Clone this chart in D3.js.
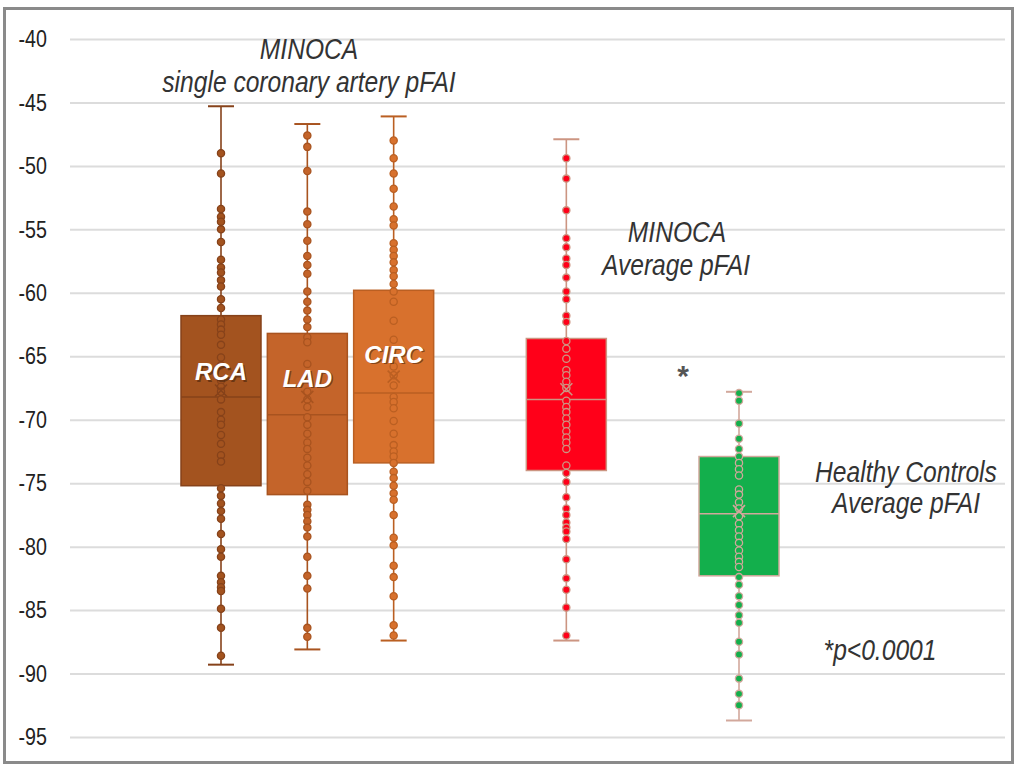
<!DOCTYPE html>
<html>
<head>
<meta charset="utf-8">
<script src="https://cdn.jsdelivr.net/npm/d3@7"></script>
<style>
  html, body { margin: 0; padding: 0; background: #fff; }
  svg { display: block; }
</style>
</head>
<body>
<svg id="chart" width="1017" height="766"></svg>
<script>
// ---------------- DATA ----------------
const slots = ["RCA", "LAD", "CIRC", "gap1", "MINOCA", "gap2", "HC"];
const seriesKeys = ["RCA", "LAD", "CIRC", "MINOCA", "HC"];
const boxLabels = ["RCA", "LAD", "CIRC", "", ""];

const whiskerHigh = [-45.3, -46.7, -46.1, -47.9, -67.8];
const q3Values     = [-61.8, -63.2, -59.8, -63.6, -72.9];
const medianValues = [-68.2, -69.6, -67.9, -68.4, -77.4];
const q1Values     = [-75.2, -75.9, -73.4, -74.0, -82.3];
const whiskerLow  = [-89.3, -88.1, -87.4, -87.4, -93.7];
const meanValues   = [-67.7, -68.2, -66.6, -67.6, -77.2];

const rcaPoints = [-49.0, -50.6, -53.4, -54.0, -54.4, -55.0, -56.0, -57.4, -58.0, -58.4, -59.0, -59.5, -60.5, -61.2,
  -62.1, -62.5, -62.9, -63.3, -64.1, -65.1, -65.7, -66.9, -67.4, -67.8, -68.4, -69.4, -70.0, -70.4, -71.2, -71.9, -72.8, -73.3,
  -75.4, -76.0, -76.6, -77.2, -77.8, -79.0, -80.2, -80.8, -82.3, -82.8, -83.2, -83.5, -84.9, -86.4, -88.6];
const ladPoints = [-47.6, -48.5, -50.4, -53.6, -54.6, -55.9, -57.1, -57.8, -58.5, -59.9, -60.7, -61.4, -62.1, -62.7,
  -63.5, -63.9, -65.6, -67.8, -68.4, -69.0, -69.8, -70.4, -71.1, -71.8, -72.3, -73.0, -73.6, -74.3, -74.9, -75.6,
  -76.7, -77.1, -77.5, -78.0, -78.5, -79.2, -80.8, -82.3, -83.3, -86.4, -87.1];
const circPoints = [-48.0, -49.4, -50.6, -51.8, -53.2, -54.2, -54.7, -56.1, -56.6, -57.1, -57.6, -58.2, -58.7, -59.3, -59.9,
  -60.7, -62.2, -63.7, -65.8, -66.5, -67.3, -68.2, -68.6, -69.1, -70.1, -71.1, -72.0, -72.5, -72.9,
  -73.4, -74.1, -74.6, -75.2, -75.8, -76.3, -77.5, -79.3, -79.9, -81.5, -82.4, -83.9, -86.2, -87.0];
const minocaPoints = [-49.4, -51.0, -53.5, -55.7, -56.4, -57.3, -57.8, -58.8, -59.9, -60.5, -61.8, -62.3,
  -63.8, -64.4, -65.2, -66.1, -66.5, -67.0, -67.5, -68.5, -69.0, -69.4, -69.9, -70.4, -70.9, -71.4, -71.8, -72.3, -73.6,
  -74.2, -74.9, -76.1, -77.0, -77.5, -78.1, -78.5, -78.8, -79.4, -81.0, -82.5, -83.4, -84.8, -87.0];
const hcPoints = [-67.9, -68.5, -70.3, -71.5, -72.3, -72.9, -73.4, -73.9, -74.4, -75.5, -75.9, -76.5, -77.0, -77.6,
  -78.2, -78.7, -79.2, -79.7, -80.3, -80.8, -81.2, -81.6, -82.4, -83.0, -83.9, -84.6, -85.4, -86.0, -87.5, -88.5,
  -90.4, -91.6, -92.5];

const yTicks = [-40, -45, -50, -55, -60, -65, -70, -75, -80, -85, -90, -95];

// ---------------- STYLE ----------------
const fills   = ["#A3531F", "#C4642A", "#D8712D", "#FF0019", "#13AF4C"];
const strokes = ["#86421A", "#A8531F", "#BA5F22", "#CC9582", "#D2A89C"];
const sans = "'Liberation Sans', Arial, sans-serif";
const squeeze = 0.82;

const pointSets = [rcaPoints, ladPoints, circPoints, minocaPoints, hcPoints];
const series = seriesKeys.map((k, i) => ({
  key: k, label: boxLabels[i], hi: whiskerHigh[i], q3: q3Values[i], med: medianValues[i],
  q1: q1Values[i], lo: whiskerLow[i], mean: meanValues[i], pts: pointSets[i],
  fill: fills[i], stroke: strokes[i]
}));

const svg = d3.select("#chart");
const plotLeft = 70, plotRight = 1005;

const y = d3.scaleLinear().domain([-95, -40]).range([737, 39]);
const x = d3.scalePoint().domain(slots).range([221, 739]);
const boxW = 80, capW = 26;

// outer frame
svg.append("rect").attr("x", 4.5).attr("y", 8.5).attr("width", 1008).attr("height", 754)
  .attr("fill", "#fff").attr("stroke", "#8a8a8a").attr("stroke-width", 3);

// axis + gridlines
const axis = d3.axisLeft(y).tickValues(yTicks).tickSize(-(plotRight - plotLeft)).tickPadding(0)
  .tickFormat(d => String(d));
const gAxis = svg.append("g").attr("transform", `translate(${plotLeft},0)`).call(axis);
gAxis.select(".domain").remove();
gAxis.selectAll(".tick line").attr("stroke", "#dcdcdc").attr("stroke-width", 2);
gAxis.selectAll(".tick text").attr("fill", "#222").style("font-family", sans).style("font-size", "24px")
  .attr("x", -23 / squeeze).attr("transform", `scale(${squeeze},1)`);

// boxes
const g = svg.append("g");
series.forEach(s => {
  const cx = x(s.key);
  const gs = g.append("g");
  gs.append("line").attr("x1", cx).attr("x2", cx).attr("y1", y(s.hi)).attr("y2", y(s.lo))
    .attr("stroke", s.stroke).attr("stroke-width", 1.6);
  [s.hi, s.lo].forEach(v => gs.append("line").attr("x1", cx - capW / 2).attr("x2", cx + capW / 2)
    .attr("y1", y(v)).attr("y2", y(v)).attr("stroke", s.stroke).attr("stroke-width", 2));
  gs.append("rect").attr("x", cx - boxW / 2).attr("width", boxW)
    .attr("y", y(s.q3)).attr("height", y(s.q1) - y(s.q3))
    .attr("fill", s.fill).attr("stroke", s.stroke).attr("stroke-width", 1.5);
  gs.append("line").attr("x1", cx - boxW / 2).attr("x2", cx + boxW / 2)
    .attr("y1", y(s.med)).attr("y2", y(s.med)).attr("stroke", s.stroke).attr("stroke-width", 1.5);
  gs.selectAll("circle").data(s.pts).join("circle")
    .attr("cx", cx).attr("cy", d => y(d)).attr("r", 3.6)
    .attr("fill", s.fill).attr("stroke", s.stroke).attr("stroke-width", 1.3);
  const m = 6, my = y(s.mean);
  gs.append("path").attr("d", `M${cx - m},${my - m}L${cx + m},${my + m}M${cx - m},${my + m}L${cx + m},${my - m}`)
    .attr("stroke", s.stroke).attr("stroke-width", 1.6).attr("fill", "none");
});

// labels inside boxes
const labelY = { RCA: -66.9, LAD: -67.4, CIRC: -65.5 };
series.filter(s => s.label).forEach(s => {
  const cx = x(s.key), ly = y(labelY[s.key]);
  svg.append("text").attr("x", cx + 1.5).attr("y", ly + 1.5).attr("text-anchor", "middle")
    .attr("fill", "rgba(60,30,10,0.55)").style("font-family", sans)
    .style("font-size", "24px").style("font-weight", "bold").style("font-style", "italic").text(s.label);
  svg.append("text").attr("x", cx).attr("y", ly).attr("text-anchor", "middle")
    .attr("fill", "#fff").style("font-family", sans)
    .style("font-size", "24px").style("font-weight", "bold").style("font-style", "italic").text(s.label);
});

// annotations (narrow italic)
const notes = [
  { t: "MINOCA", x: 309, y: 59 },
  { t: "single coronary artery pFAI", x: 309, y: 92 },
  { t: "MINOCA", x: 677, y: 242 },
  { t: "Average pFAI", x: 676, y: 275 },
  { t: "Healthy Controls", x: 906, y: 482 },
  { t: "Average pFAI", x: 906, y: 513 },
  { t: "*p<0.0001", x: 880, y: 660 }
];
notes.forEach(n => svg.append("text").attr("transform", `translate(${n.x},${n.y}) scale(${squeeze},1)`)
  .attr("text-anchor", "middle").attr("fill", "#333").style("font-family", sans)
  .style("font-style", "italic").style("font-size", "30px").text(n.t));
svg.append("text").attr("x", 683).attr("y", 386).attr("text-anchor", "middle").attr("fill", "#555")
  .style("font-family", sans).style("font-weight", "bold").style("font-size", "30px").text("*");
</script>
</body>
</html>
